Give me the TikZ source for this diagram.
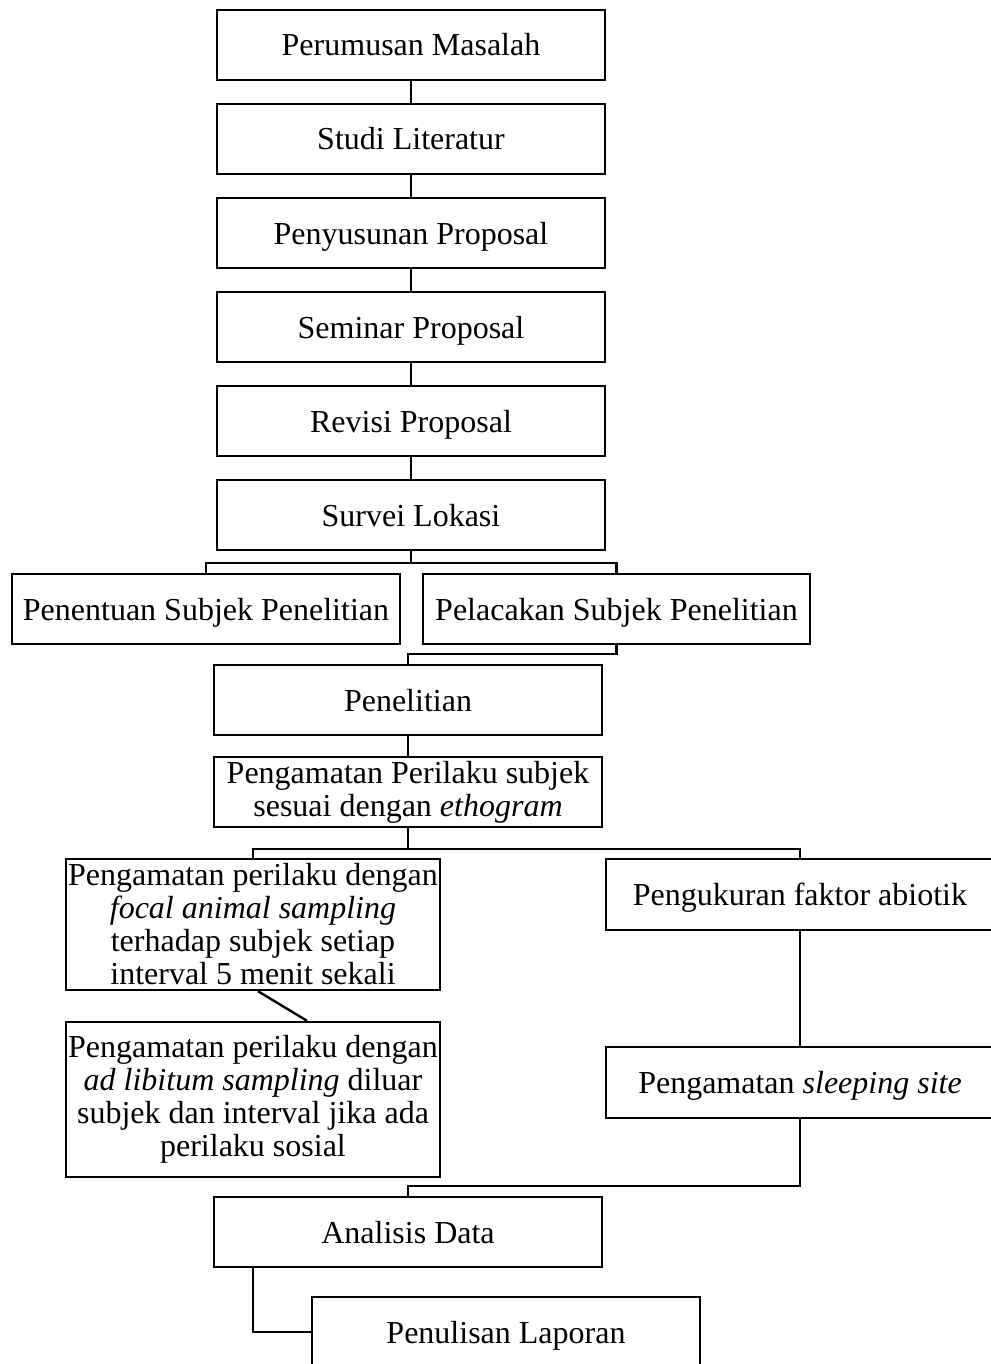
\documentclass[tikz,border=0pt]{standalone}
\usepackage{fontspec}
\setmainfont{Liberation Serif}
\usetikzlibrary{calc}
\begin{document}
\begin{tikzpicture}[x=1pt,y=-1pt,
  box/.style={draw, line width=2.4pt, minimum width=388pt, minimum height=70pt, inner sep=0pt, align=center, font=\fontsize{32}{33}\selectfont},
  one/.style={text height=29pt, text depth=7pt},
  conn/.style={draw, line width=2.4pt}]
\useasboundingbox[fill=white] (0,0) rectangle (990,1364);
\node[box,one] (pm) at (411,45) {Perumusan Masalah};
\node[box,one] (sl) at (411,139) {Studi Literatur};
\node[box,one] (pp) at (411,233) {Penyusunan Proposal};
\node[box,one] (sp) at (411,327) {Seminar Proposal};
\node[box,one] (rp) at (411,421) {Revisi Proposal};
\node[box,one] (sv) at (411,515) {Survei Lokasi};
\node[box,one] (pen) at (206,609) {Penentuan Subjek Penelitian};
\node[box,one, minimum width=387pt] (pel) at (616.5,609) {Pelacakan Subjek Penelitian};
\node[box,one] (penel) at (408,700) {Penelitian};
\node[box] (eth) at (408,792) {Pengamatan Perilaku subjek\\sesuai dengan \textit{ethogram}};
\node[box, minimum width=374pt, minimum height=131pt] (foc) at (253,924.5) {Pengamatan perilaku dengan\\\textit{focal animal sampling}\\terhadap subjek setiap\\interval 5 menit sekali};
\node[box,one, minimum height=71pt] (abi) at (800,894.5) {Pengukuran faktor abiotik};
\node[box, minimum width=374pt, minimum height=155pt] (adl) at (253,1099.5) {Pengamatan perilaku dengan\\\textit{ad libitum sampling} diluar\\subjek dan interval jika ada\\perilaku sosial};
\node[box,one, minimum height=71pt] (sleep) at (800,1082.5) {Pengamatan \textit{sleeping site}};
\node[box,one] (ana) at (408,1232) {Analisis Data};
\node[box,one] (lap) at (506,1332) {Penulisan Laporan};

\draw[conn] (pm) -- (sl);
\draw[conn] (sl) -- (pp);
\draw[conn] (pp) -- (sp);
\draw[conn] (sp) -- (rp);
\draw[conn] (rp) -- (sv);
\draw[conn] (sv.south) -- ++(0,12) coordinate (j1);
\draw[conn] (pen.north) |- (j1) -| (pel.north);
\draw[conn] (pel.south) -- ++(0,9) -| (penel.north);
\draw[conn] (penel) -- (eth);
\draw[conn] (eth.south) -- ++(0,21) coordinate (j3);
\draw[conn] (foc.north) |- (j3) -| (abi.north);
\draw[conn] ($(foc.south)+(5,0)$) -- ($(adl.north)+(54,0)$);
\draw[conn] (abi) -- (sleep);
\draw[conn] (sleep.south) -- ++(0,67) -| (ana.north);
\draw[conn] ($(ana.south)+(-155,0)$) |- (lap.west);
\end{tikzpicture}
\end{document}
